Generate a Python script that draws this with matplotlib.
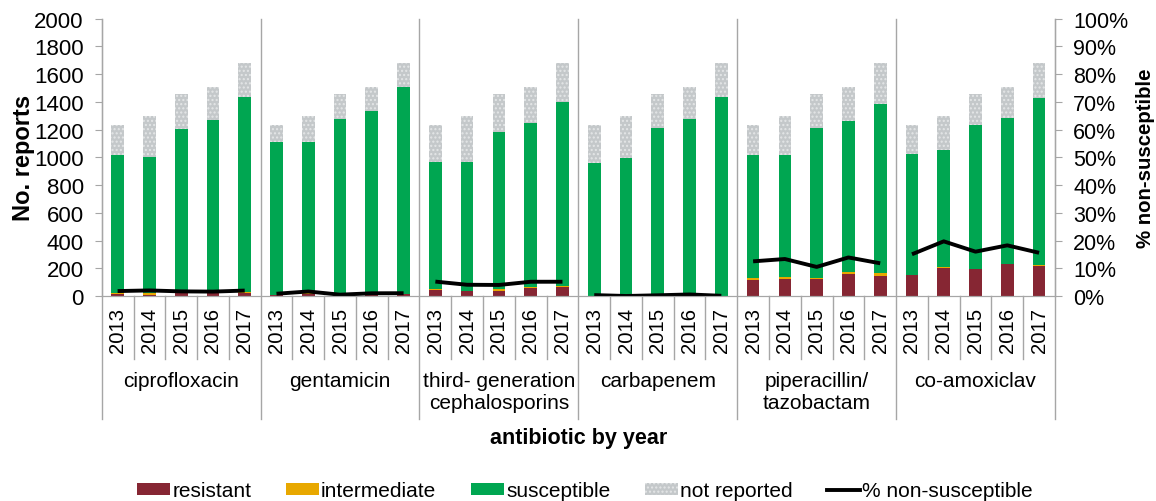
import matplotlib
matplotlib.use("Agg")
import matplotlib.pyplot as plt
import numpy as np
from matplotlib.patches import Patch
from matplotlib.lines import Line2D

plt.rcParams["font.family"] = ["Liberation Sans", "DejaVu Sans"]

antibiotics = ["ciprofloxacin", "gentamicin", "third- generation\ncephalosporins",
               "carbapenem", "piperacillin/\ntazobactam", "co-amoxiclav"]
years = ["2013", "2014", "2015", "2016", "2017"]

# total reports per year (same for every antibiotic)
total = [1232, 1300, 1457, 1507, 1680]

resistant = [
    [16, 4, 18, 18, 22],
    [8, 15, 5, 12, 12],
    [43, 34, 39, 58, 67],
    [3, 0, 2, 6, 1],
    [113, 125, 120, 156, 144],
    [149, 202, 192, 228, 216],
]
intermediate = [
    [2, 16, 2, 2, 6],
    [1, 3, 1, 1, 3],
    [7, 5, 8, 6, 5],
    [0, 0, 1, 1, 0],
    [14, 10, 7, 19, 19],
    [5, 5, 5, 6, 6],
]
# top of the susceptible segment (resistant + intermediate + susceptible)
tested = [
    [1017, 1000, 1207, 1267, 1438],
    [1111, 1111, 1274, 1334, 1505],
    [964, 964, 1183, 1248, 1402],
    [957, 993, 1212, 1279, 1431],
    [1017, 1013, 1212, 1260, 1383],
    [1024, 1051, 1233, 1282, 1426],
]

c_res = "#862633"
c_int = "#e8a800"
c_sus = "#00a651"
c_nr = "#c4c8ca"
grey = "#a6a6a6"

fig = plt.figure(figsize=(11.56, 5.02), dpi=100)
ax = fig.add_axes([0.088, 0.4084, 0.8246, 0.5526])
ax2 = ax.twinx()

ny = len(years)
bw = 0.4
for g, name in enumerate(antibiotics):
    x = np.arange(ny) + g * ny
    r = np.array(resistant[g])
    i = np.array(intermediate[g])
    t = np.array(tested[g])
    tot = np.array(total)
    s = t - r - i
    nr = tot - t
    ax.bar(x, r, bw, color=c_res, zorder=2)
    ax.bar(x, i, bw, bottom=r, color=c_int, zorder=2)
    ax.bar(x, s, bw, bottom=r + i, color=c_sus, zorder=2)
    ax.bar(x, nr, bw, bottom=t, color=c_nr, hatch="....", edgecolor="#e4e6e7",
           linewidth=0, zorder=2)
    pct = (r + i) / t * 100
    ax2.plot(x, pct, color="black", lw=2.8, solid_capstyle="butt")

n = ny * len(antibiotics)
ax.set_xlim(-0.5, n - 0.5)
ax.set_ylim(0, 2000)
ax.set_yticks(np.arange(0, 2001, 200))
ax2.set_ylim(0, 100)
ax2.set_yticks(np.arange(0, 101, 10))
ax2.set_yticklabels([f"{v}%" for v in range(0, 101, 10)])

ax.set_xticks(np.arange(n))
ax.set_xticklabels(years * len(antibiotics), rotation=90, fontsize=14.6)
ax.tick_params(axis="x", length=0, pad=8)
ax.tick_params(axis="y", labelsize=16, color=grey, length=5, pad=8)
ax2.tick_params(axis="y", labelsize=15.5, color=grey, length=5, pad=8)

for a in (ax, ax2):
    for sp in ["top"]:
        a.spines[sp].set_visible(False)
    for sp in ["left", "right", "bottom"]:
        a.spines[sp].set_color(grey)

trans = ax.get_xaxis_transform()
# separators between years (below axis) and between groups (full height)
for k in range(n + 1):
    xp = k - 0.5
    if k % ny == 0:
        ax.plot([xp, xp], [1.0, -0.444], transform=trans, color=grey, lw=1.0,
                clip_on=False, zorder=1)
    else:
        ax.plot([xp, xp], [0, -0.227], transform=trans, color=grey, lw=1.0,
                clip_on=False, zorder=1)

for g, name in enumerate(antibiotics):
    ax.text(g * ny + (ny - 1) / 2, -0.27, name, transform=trans, ha="center",
            va="top", fontsize=15, linespacing=1.2)

ax.text(0.5, -0.51, "antibiotic by year", transform=ax.transAxes, ha="center",
        va="center", fontsize=15.5, fontweight="bold")
ax.set_ylabel("No. reports", fontsize=17, fontweight="bold", labelpad=-1)
ax2.set_ylabel("% non-susceptible", fontsize=14.7, fontweight="bold", labelpad=6)

handles = [
    Patch(facecolor=c_res),
    Patch(facecolor=c_int),
    Patch(facecolor=c_sus),
    Patch(facecolor=c_nr, hatch="....", edgecolor="#e4e6e7", linewidth=0),
    Line2D([0], [0], color="black", lw=2.8),
]
labels = ["resistant", "intermediate", "susceptible", "not reported", "% non-susceptible"]
fig.legend(handles, labels, loc="center", bbox_to_anchor=(0.506, 0.02), ncol=5,
           frameon=False, fontsize=15, handlelength=1.6, handleheight=0.55,
           handletextpad=0.1, columnspacing=1.65)

fig.savefig("out.png", dpi=100)
